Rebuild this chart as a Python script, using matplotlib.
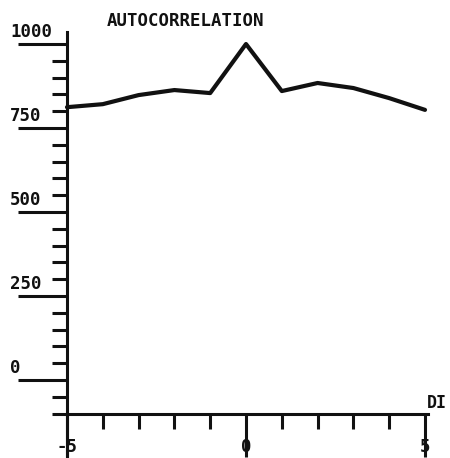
import matplotlib.pyplot as plt
from matplotlib.ticker import FixedLocator
import matplotlib.transforms as mtransforms

lags = [-5, -4, -3, -2, -1, 0, 1, 2, 3, 4, 5]
acf = [812, 821, 848, 863, 854, 1000, 860, 884, 869, 839, 804]

y_major = [0, 250, 500, 750, 1000]
y_major_labels = ['0', '250', '500', '750', '1000']
y_minor = [v for v in range(-100, 1000, 50) if v not in y_major]
x_major = [-5, 0, 5]
x_major_labels = ['-5', '0', '5']
x_minor = [-4, -3, -2, -1, 1, 2, 3, 4]

ink = '#111111'
font = dict(family='DejaVu Sans Mono', fontweight='bold', color=ink)

fig = plt.figure(figsize=(4.5, 4.58), dpi=100)
ax = fig.add_axes([0, 0, 1, 1])
ax.set_xlim(-6.871, 5.698)
ax.set_ylim(-232, 1131)

ax.plot(lags, acf, color=ink, lw=3.0, solid_joinstyle='round', solid_capstyle='round')

# axes drawn through the data origin like a pen plotter
for side in ('top', 'right'):
    ax.spines[side].set_visible(False)
ax.spines['left'].set_position(('data', -5))
ax.spines['left'].set_bounds(-240, 1036)
ax.spines['bottom'].set_position(('data', -100))
ax.spines['bottom'].set_bounds(-5, 5.08)
for side in ('left', 'bottom'):
    ax.spines[side].set_linewidth(2.2)
    ax.spines[side].set_color(ink)

ax.yaxis.set_major_locator(FixedLocator(y_major))
ax.yaxis.set_minor_locator(FixedLocator(y_minor))
ax.xaxis.set_major_locator(FixedLocator(x_major))
ax.xaxis.set_minor_locator(FixedLocator(x_minor))
ax.tick_params(axis='y', which='major', direction='out', length=35, width=2.2, color=ink, labelleft=False)
ax.tick_params(axis='y', which='minor', direction='out', length=11, width=2.2, color=ink)
ax.tick_params(axis='x', which='major', direction='out', length=31, width=2.2, color=ink, labelbottom=False)
ax.tick_params(axis='x', which='minor', direction='out', length=11, width=2.2, color=ink)

# y labels sit on top of the long ticks, flush left
ytrans = mtransforms.blended_transform_factory(ax.transAxes, ax.transData)
for v, lab in zip(y_major, y_major_labels):
    ax.annotate(lab, xy=(0.022, v), xycoords=ytrans, xytext=(0, 2.5),
                textcoords='offset points', ha='left', va='bottom', fontsize=12.5, **font)

xtrans = mtransforms.blended_transform_factory(ax.transData, ax.transAxes)
for v, lab in zip(x_major, x_major_labels):
    ax.text(v, 0.024, lab, transform=xtrans, ha='center', va='center', fontsize=12.5, **font)

fig.text(185 / 450, 1 - 21 / 458, 'AUTOCORRELATION', ha='center', va='center', fontsize=12.5, **font)
fig.text(437 / 450, 1 - 403 / 458, 'DI', ha='center', va='center', fontsize=12, **font)

fig.savefig('out.png', dpi=100)
